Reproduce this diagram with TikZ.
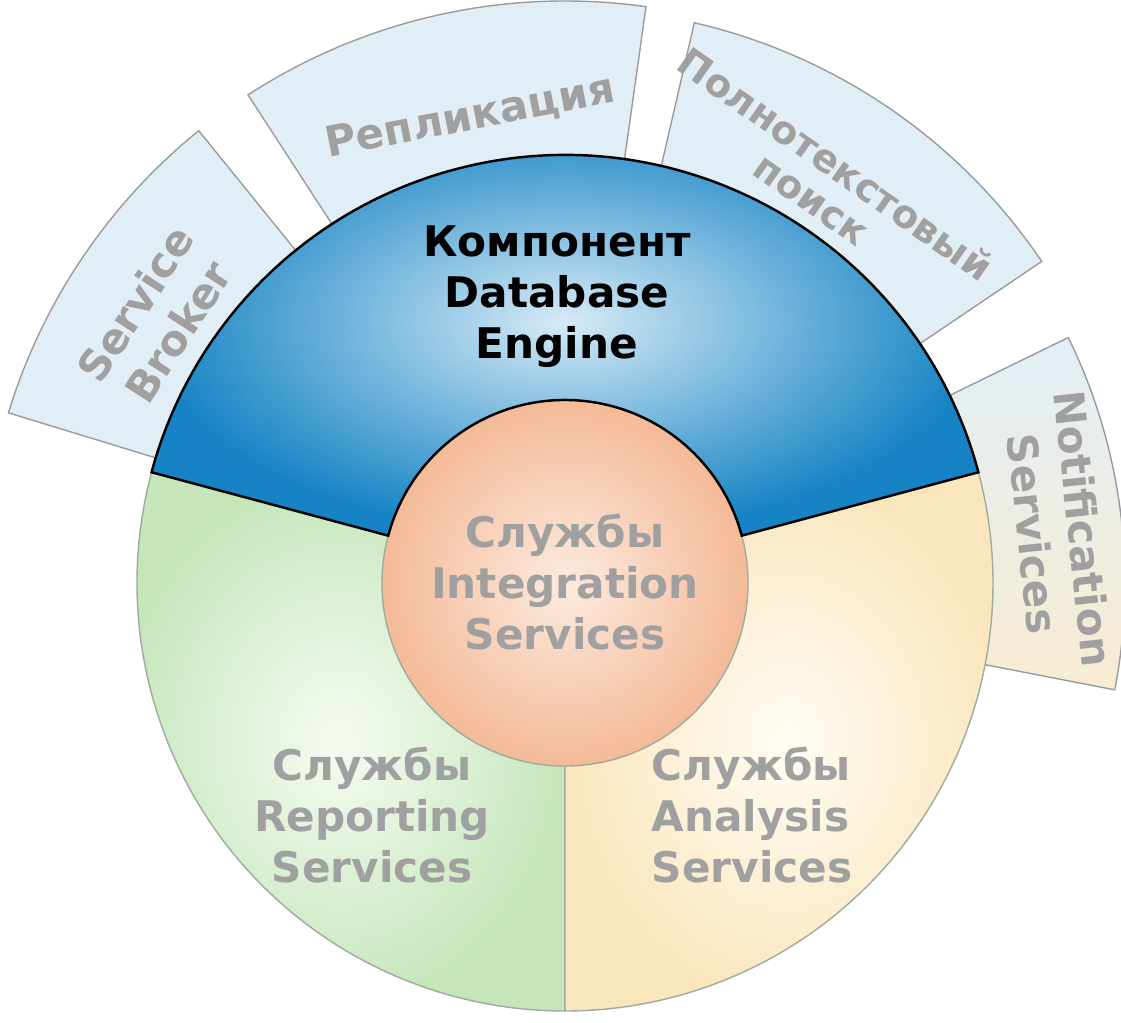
\documentclass[tikz,border=0pt]{standalone}
\usepackage{fontspec}
\setmainfont{DejaVu Sans}
\definecolor{tabfill}{RGB}{226,238,246}
\definecolor{notefill}{RGB}{248,236,210}
\definecolor{tabline}{RGB}{150,156,162}
\definecolor{rimline}{RGB}{160,170,160}
\definecolor{labelgray}{RGB}{160,160,160}
\definecolor{bluedark}{RGB}{22,132,196}
\definecolor{bluelight}{RGB}{214,234,246}
\definecolor{greendark}{RGB}{196,230,186}
\definecolor{greenlight}{RGB}{246,251,242}
\definecolor{sanddark}{RGB}{250,230,188}
\definecolor{sandlight}{RGB}{255,252,244}
\definecolor{peachdark}{RGB}{244,186,152}
\definecolor{peachlight}{RGB}{252,234,222}
\tikzset{
	every node/.style={font=\bfseries\fontsize{24}{29}\selectfont, align=center},
	tab/.style={
		draw=tabline,
		fill=tabfill,
		line width=0.8pt,
	},
	rim/.style={
		draw=rimline,
		line width=0.8pt,
	},
	core/.style={
		draw=black,
		line width=1.4pt,
	},
	faint/.style={text=labelgray},
}

\begin{document}
\begin{tikzpicture}[x=0.02cm, y=0.02cm]
	\useasboundingbox (-565,-439) rectangle (556,583);

	% outer tabs
	\draw[tab] (129:400) -- (129:582) arc (129:163:582) -- (163:400) -- cycle;
	\draw[tab] (82:400) -- (82:582) arc (82:123:582) -- (123:400) -- cycle;
	\draw[tab] (34:400) -- (34:575) arc (34:77:575) -- (77:400) -- cycle;
	\shade[draw=tabline, line width=0.8pt, top color=tabfill, bottom color=notefill]
		(-11:400) -- (-11:560) arc (-11:26:560) -- (26:400) -- cycle;

	% main ring
	\shade[rim, inner color=greenlight, outer color=greendark]
		(0,0) -- (165:428) arc (165:270:428) -- cycle;
	\shade[rim, inner color=sandlight, outer color=sanddark]
		(0,0) -- (270:428) arc (270:375:428) -- cycle;
	\shade[rim, inner color=peachlight, outer color=peachdark] (0,0) circle (183);
	\shade[core, inner color=bluelight, outer color=bluedark]
		(15:183) -- (15:428) arc (15:165:428) -- (165:183) arc (165:15:183) -- cycle;

	\node (engine) at (-8,286) {Компонент\\Database\\Engine};
	\node[faint] (integration) at (0,1) {Службы\\Integration\\Services};
	\node[faint] (reporting) at (-193,-232) {Службы\\Reporting\\Services};
	\node[faint, align=left] (analysis) at (187,-232) {Службы\\Analysis\\Services};

	\node[faint, rotate=57] (broker) at (147:487) {Service\\Broker};
	\node[faint, rotate=11] (replication) at (101.5:475) {Репликация};
	\node[faint, rotate=-35, font=\bfseries\fontsize{22}{24}\selectfont] (fulltext) at (57.2:478) {Полнотекстовый\\поиск};
	\node[faint, rotate=-84] (notification) at (6:496) {Notification\\Services};
\end{tikzpicture}
\end{document}
